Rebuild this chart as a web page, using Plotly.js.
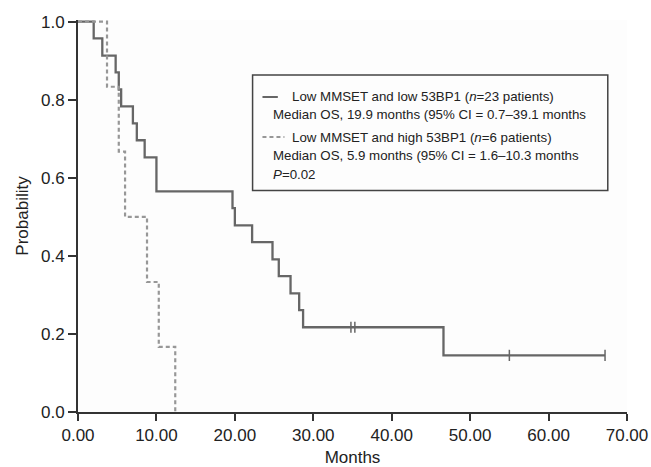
<!DOCTYPE html>
<html>
<head>
<meta charset="utf-8">
<script src="https://cdn.plot.ly/plotly-3.0.1.min.js"></script>
<style>html,body{margin:0;padding:0;background:#fff;}#chart{width:651px;height:467px;}</style>
</head>
<body>
<div id="chart"></div>
<script>
// Low MMSET and low 53BP1 (n=23) – Kaplan-Meier steps
const lowTimes = [0, 2.0, 3.1, 4.8, 5.2, 5.5, 7.0, 7.5, 8.5, 10.0, 19.7, 20.0, 22.2, 24.8, 25.6, 27.1, 28.2, 28.7, 46.6, 67.2];
const lowSurv  = [1.0, 0.957, 0.913, 0.870, 0.826, 0.783, 0.739, 0.696, 0.652, 0.565, 0.522, 0.478, 0.435, 0.391, 0.348, 0.304, 0.261, 0.217, 0.145, 0.145];
const lowCensorTimes = [34.8, 35.3, 55.0, 67.2];
const lowCensorSurv  = [0.217, 0.217, 0.145, 0.145];

// Low MMSET and high 53BP1 (n=6)
const highTimes = [0, 3.7, 5.2, 6.0, 8.8, 10.3, 12.4];
const highSurv  = [1.0, 0.833, 0.667, 0.5, 0.333, 0.167, 0.0];

const xTicks = [0, 10, 20, 30, 40, 50, 60, 70];
const xTickLabels = ["0.00", "10.00", "20.00", "30.00", "40.00", "50.00", "60.00", "70.00"];
const yTicks = [0, 0.2, 0.4, 0.6, 0.8, 1.0];
const yTickLabels = ["0.0", "0.2", "0.4", "0.6", "0.8", "1.0"];

const legendLines = [
  "Low MMSET and low 53BP1 (<i>n</i>=23 patients)",
  "Median OS, 19.9 months (95% CI = 0.7–39.1 months",
  "Low MMSET and high 53BP1 (<i>n</i>=6 patients)",
  "Median OS, 5.9 months (95% CI = 1.6–10.3 months",
  "<i>P</i>=0.02"
];

const solidColor = '#666666';
const dashColor = '#979797';
const font = 'Liberation Sans, Arial, Helvetica, sans-serif';

const traces = [
  {x: lowTimes, y: lowSurv, mode: 'lines', line: {shape: 'hv', color: solidColor, width: 2.3}, hoverinfo: 'none', showlegend: false},
  {x: lowCensorTimes, y: lowCensorSurv, mode: 'markers', marker: {symbol: 'line-ns', size: 8, line: {width: 1.5, color: solidColor}}, cliponaxis: false, hoverinfo: 'none', showlegend: false},
  {x: highTimes, y: highSurv, mode: 'lines', line: {shape: 'hv', color: dashColor, width: 2.2, dash: '4px,3px'}, hoverinfo: 'none', showlegend: false}
];

const textSize = 13.3;
const legendX0 = 0.318, legendX1 = 0.965, legendY0 = 0.565, legendY1 = 0.860;
const textY = [0.8036, 0.760, 0.7015, 0.654, 0.607];
const textX = [0.3856, 0.3523, 0.3856, 0.3523, 0.3523];

const annotations = legendLines.map((t, i) => ({
  xref: 'paper', yref: 'paper', x: textX[i], y: textY[i], xanchor: 'left', yanchor: 'middle',
  text: t, showarrow: false, font: {family: font, size: textSize, color: '#222'}
}));

const shapes = [
  {type: 'rect', xref: 'paper', yref: 'paper', x0: legendX0, x1: legendX1, y0: legendY0, y1: legendY1,
   line: {color: '#444', width: 1.5}, fillcolor: 'rgba(0,0,0,0)'},
  {type: 'line', xref: 'paper', yref: 'paper', x0: 0.336, x1: 0.364, y0: textY[0], y1: textY[0],
   line: {color: solidColor, width: 2}},
  {type: 'line', xref: 'paper', yref: 'paper', x0: 0.336, x1: 0.376, y0: textY[2], y1: textY[2],
   line: {color: dashColor, width: 2, dash: '4px,3px'}}
];

const layout = {
  width: 651, height: 467,
  margin: {l: 78, r: 24, t: 20, b: 55},
  paper_bgcolor: '#ffffff', plot_bgcolor: '#fdfdfd',
  font: {family: font, size: 17, color: '#222'},
  xaxis: {
    range: [0, 70], tickvals: xTicks, ticktext: xTickLabels,
    showgrid: false, zeroline: false, showline: true, linecolor: '#333', linewidth: 2,
    ticks: 'outside', ticklen: 7, tickwidth: 2, tickcolor: '#333',
    tickfont: {family: font, size: 17, color: '#222'},
    title: {text: 'Months', font: {family: font, size: 17, color: '#222'}, standoff: 11},
    automargin: false, fixedrange: true
  },
  yaxis: {
    range: [0, 1.004], tickvals: yTicks, ticktext: yTickLabels,
    showgrid: false, zeroline: false, showline: true, linecolor: '#333', linewidth: 2,
    ticks: 'outside', ticklen: 8, tickwidth: 2, tickcolor: '#333',
    tickfont: {family: font, size: 17, color: '#222'},
    title: {text: 'Probability', font: {family: font, size: 17, color: '#222'}, standoff: 8},
    automargin: false, fixedrange: true
  },
  annotations: annotations,
  shapes: shapes,
  showlegend: false
};

Plotly.newPlot('chart', traces, layout, {staticPlot: true, displayModeBar: false});
</script>
</body>
</html>
